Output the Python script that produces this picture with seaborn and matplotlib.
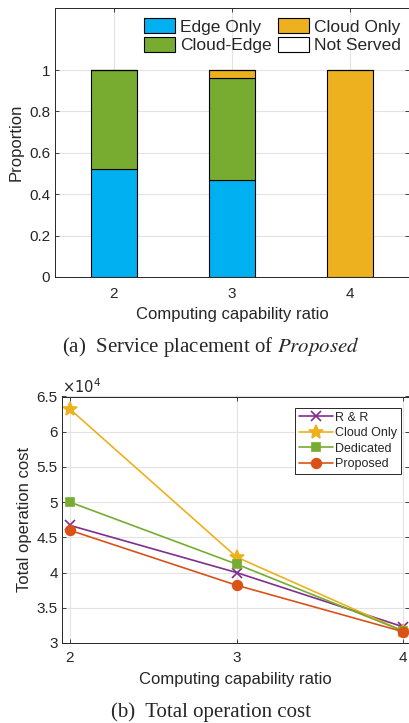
import matplotlib
matplotlib.use("Agg")
import matplotlib.pyplot as plt
import matplotlib.ticker as mticker
import seaborn as sns

# Service placement of Proposed (proportions per computing capability ratio)
ratios = ["2", "3", "4"]
edge_only = [0.52, 0.467, 0.0]
cloud_edge = [0.48, 0.496, 0.0]
cloud_only = [0.0, 0.037, 1.0]
not_served = [0.0, 0.0, 0.0]

# Total operation cost
cost_ratios = [2, 3, 4]
cost_rr = [46700, 40000, 32300]
cost_cloud_only = [63200, 42200, 31700]
cost_dedicated = [50000, 41200, 31700]
cost_proposed = [46000, 38200, 31600]

sns.set_style("whitegrid")
plt.rcParams["font.family"] = ["Liberation Sans", "DejaVu Sans"]
plt.rcParams["axes.edgecolor"] = "#262626"
plt.rcParams["axes.linewidth"] = 0.7
plt.rcParams["grid.color"] = "#e3e3e3"
plt.rcParams["grid.linewidth"] = 0.8

TXT = "#262626"
fig = plt.figure(figsize=(4.1, 7.23), dpi=100)

# ---- (a) stacked bars ----
ax1 = fig.add_axes([55 / 410, 1 - 277 / 723, 354 / 410, 269 / 723])

layers = [
    ("Edge Only", edge_only, "#00B0F0"),
    ("Cloud-Edge", cloud_edge, "#77AC30"),
    ("Cloud Only", cloud_only, "#EDB120"),
    ("Not Served", not_served, "#FFFFFF"),
]
bottom = [0.0, 0.0, 0.0]
for name, vals, col in layers:
    sns.barplot(x=ratios, y=vals, order=ratios, color=col, width=0.39,
                bottom=bottom, edgecolor="black", linewidth=0.8,
                label=name, ax=ax1, saturation=1)
    bottom = [b + v for b, v in zip(bottom, vals)]

ax1.set_xlim(-0.5, 2.5)
ax1.set_ylim(0, 1.3)
ax1.set_yticks([0, 0.2, 0.4, 0.6, 0.8, 1])
ax1.yaxis.set_major_formatter(mticker.FuncFormatter(lambda v, p: f"{v:g}"))
ax1.grid(True, axis="both")
ax1.set_axisbelow(True)
ax1.set_xlabel("Computing capability ratio", fontsize=12, color=TXT)
ax1.set_ylabel("Proportion", fontsize=12, color=TXT)
ax1.yaxis.set_label_coords(-0.088, 0.5)
ax1.xaxis.set_label_coords(0.5, -0.11)
ax1.tick_params(direction="in", length=3, width=0.6, labelsize=11, colors=TXT,
                top=True, right=True, bottom=True, left=True)
ax1.tick_params(axis="x", pad=7)

h, l = ax1.get_legend_handles_labels()
order = [l.index(n) for n in ["Edge Only", "Cloud-Edge", "Cloud Only", "Not Served"]]
ax1.legend([h[i] for i in order], [l[i] for i in order], ncol=2, frameon=False,
           loc="upper right", bbox_to_anchor=(1.006, 1.0), fontsize=12.5,
           handlelength=1.8, handleheight=0.9, handletextpad=0.25,
           columnspacing=0.4, labelspacing=0.15, borderaxespad=0.2)

fig.text(0.515, 1 - 347 / 723, "(a)  Service placement of $\\mathit{Proposed}$",
         ha="center", va="center", family="Liberation Serif", fontsize=15,
         math_fontfamily="stix")

# ---- (b) total operation cost ----
ax2 = fig.add_axes([62.5 / 410, 1 - 643 / 723, 346.5 / 410, 246.5 / 723])

series = [
    ("R & R", cost_rr, "#7E2F8E", "x", 7),
    ("Cloud Only", cost_cloud_only, "#EDB120", "*", 10),
    ("Dedicated", cost_dedicated, "#77AC30", "s", 5.5),
    ("Proposed", cost_proposed, "#D95319", "o", 7),
]
for name, vals, col, mk, ms in series:
    sns.lineplot(x=cost_ratios, y=vals, color=col, marker=mk, markersize=ms,
                 markeredgecolor=col, markerfacecolor=col, markeredgewidth=1.2,
                 linewidth=1.2, label=name, ax=ax2)

ax2.set_xlim(1.955, 4.035)
ax2.set_ylim(30000, 65000)
ax2.set_xticks([2, 3, 4])
ax2.set_yticks(range(30000, 65001, 5000))
ax2.yaxis.set_major_formatter(mticker.FuncFormatter(lambda v, p: f"{v / 1e4:g}"))
ax2.grid(True, axis="both")
ax2.set_axisbelow(True)
ax2.set_xlabel("Computing capability ratio", fontsize=12, color=TXT)
ax2.set_ylabel("Total operation cost", fontsize=12, color=TXT)
ax2.yaxis.set_label_coords(-0.088, 0.5)
ax2.xaxis.set_label_coords(0.5, -0.117)
ax2.tick_params(direction="in", length=3, width=0.6, labelsize=11, colors=TXT,
                top=True, right=True, bottom=True, left=True)
ax2.tick_params(axis="x", pad=5.5)
ax2.text(0.0, 1.0, "$\\times10^4$", transform=ax2.transAxes, ha="left", va="bottom",
         fontsize=10.5, color=TXT, math_fontfamily="dejavusans")

leg = ax2.legend(loc="upper right", bbox_to_anchor=(0.977, 0.953), fontsize=9,
                 handlelength=2.7, handletextpad=0.2, labelspacing=0.28,
                 borderpad=0.3, borderaxespad=0, fancybox=False, framealpha=1)
leg.get_frame().set_edgecolor(TXT)
leg.get_frame().set_linewidth(0.7)

fig.text(0.515, 1 - 712 / 723, "(b)  Total operation cost", ha="center", va="center",
         family="Liberation Serif", fontsize=15)

fig.savefig("out.png", dpi=100)
